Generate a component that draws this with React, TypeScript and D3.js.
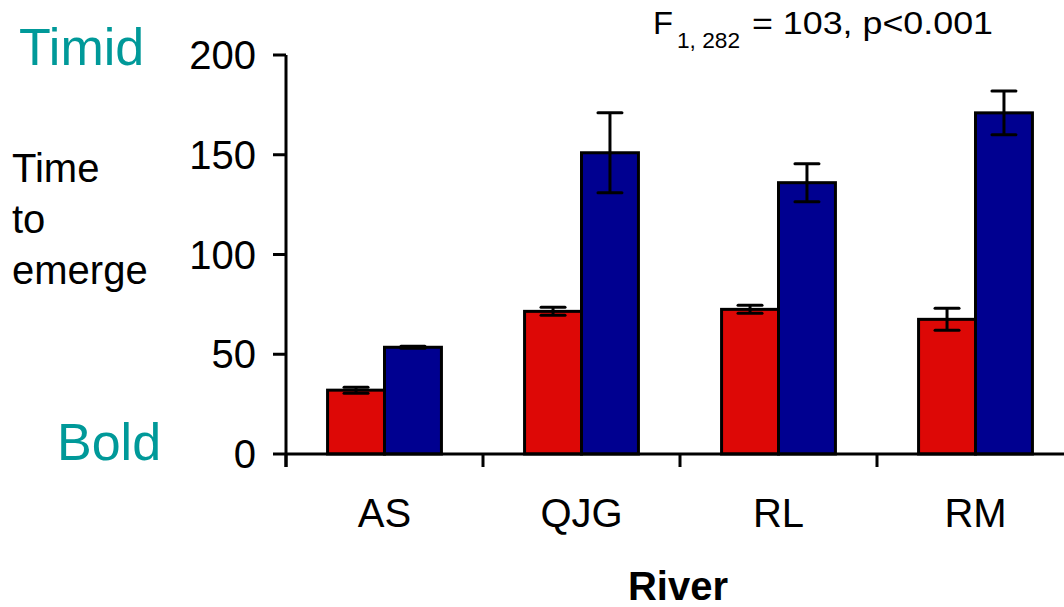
import React, { useEffect, useRef } from 'react';
import * as d3 from 'd3';

const rivers = ['AS', 'QJG', 'RL', 'RM'];
const groups = ['bold', 'timid'];
const boldMeans = [32, 71.5, 72.5, 67.5];
const boldErr = [1.5, 2, 2, 5.5];
const timidMeans = [53.5, 151, 136, 171];
const timidErr = [0.5, 20, 9.5, 11];
const yTicks = [0, 50, 100, 150, 200];

const colors: { [k: string]: string } = { bold: '#DD0806', timid: '#000090' };

interface Bar {
  river: string;
  group: string;
  value: number;
  err: number;
}

export default function App() {
  const ref = useRef<SVGSVGElement>(null);

  useEffect(() => {
    document.body.style.margin = '0';
    const width = 1064;
    const height = 607;
    const font = 'Liberation Sans, Arial, sans-serif';

    const svg = d3.select(ref.current);
    svg.selectAll('*').remove();

    const bars: Bar[] = [];
    rivers.forEach((r, i) => {
      bars.push({ river: r, group: 'bold', value: boldMeans[i], err: boldErr[i] });
      bars.push({ river: r, group: 'timid', value: timidMeans[i], err: timidErr[i] });
    });

    const xScale = d3.scaleBand().domain(rivers).range([286, 1074]).padding(0);
    const xSub = d3
      .scaleBand()
      .domain(groups)
      .range([0, xScale.bandwidth()])
      .paddingInner(0)
      .paddingOuter(0.73);
    const yScale = d3.scaleLinear().domain([0, 200]).range([454, 55]);

    // bars
    svg
      .append('g')
      .selectAll('rect')
      .data(bars)
      .enter()
      .append('rect')
      .attr('x', (d) => (xScale(d.river) as number) + (xSub(d.group) as number))
      .attr('y', (d) => yScale(d.value))
      .attr('width', xSub.bandwidth())
      .attr('height', (d) => yScale(0) - yScale(d.value))
      .attr('fill', (d) => colors[d.group])
      .attr('stroke', '#000')
      .attr('stroke-width', 3);

    // error bars
    const eb = svg.append('g').selectAll('g').data(bars).enter().append('g');
    const cx = (d: Bar) =>
      (xScale(d.river) as number) + (xSub(d.group) as number) + xSub.bandwidth() / 2;
    eb.append('line')
      .attr('x1', cx)
      .attr('x2', cx)
      .attr('y1', (d) => yScale(d.value + d.err))
      .attr('y2', (d) => yScale(d.value - d.err))
      .attr('stroke', '#000')
      .attr('stroke-width', 3);
    [1, -1].forEach((s) => {
      eb.append('line')
        .attr('x1', (d) => cx(d) - 12)
        .attr('x2', (d) => cx(d) + 12)
        .attr('y1', (d) => yScale(d.value + s * d.err))
        .attr('y2', (d) => yScale(d.value + s * d.err))
        .attr('stroke', '#000')
        .attr('stroke-width', 3)
        .attr('stroke-linecap', 'round');
    });

    // y axis
    const yAxis = svg.append('g');
    yAxis
      .append('line')
      .attr('x1', 286)
      .attr('x2', 286)
      .attr('y1', yScale(200))
      .attr('y2', 467)
      .attr('stroke', '#000')
      .attr('stroke-width', 3);
    yAxis
      .selectAll('line.tick')
      .data(yTicks)
      .enter()
      .append('line')
      .attr('class', 'tick')
      .attr('x1', 273)
      .attr('x2', 286)
      .attr('y1', (d) => yScale(d))
      .attr('y2', (d) => yScale(d))
      .attr('stroke', '#000')
      .attr('stroke-width', 3);
    yAxis
      .selectAll('text')
      .data(yTicks)
      .enter()
      .append('text')
      .attr('x', 256)
      .attr('y', (d) => yScale(d) + 14)
      .attr('text-anchor', 'end')
      .attr('font-family', font)
      .attr('font-size', 40)
      .text((d) => d);

    // x axis
    const xAxis = svg.append('g');
    xAxis
      .append('line')
      .attr('x1', 286)
      .attr('x2', width)
      .attr('y1', 454)
      .attr('y2', 454)
      .attr('stroke', '#000')
      .attr('stroke-width', 3);
    xAxis
      .selectAll('line.tick')
      .data(rivers)
      .enter()
      .append('line')
      .attr('class', 'tick')
      .attr('x1', (d) => xScale(d) as number)
      .attr('x2', (d) => xScale(d) as number)
      .attr('y1', 454)
      .attr('y2', 467)
      .attr('stroke', '#000')
      .attr('stroke-width', 3);
    xAxis
      .selectAll('text')
      .data(rivers)
      .enter()
      .append('text')
      .attr('x', (d) => (xScale(d) as number) + xScale.bandwidth() / 2)
      .attr('y', 527)
      .attr('text-anchor', 'middle')
      .attr('font-family', font)
      .attr('font-size', 40)
      .text((d) => d);

    svg
      .append('text')
      .attr('x', 678)
      .attr('y', 600)
      .attr('text-anchor', 'middle')
      .attr('font-family', font)
      .attr('font-size', 40)
      .attr('font-weight', 'bold')
      .text('River');

    // y labels
    const teal = '#009999';
    svg
      .append('text')
      .attr('x', 19)
      .attr('y', 65)
      .attr('font-family', font)
      .attr('font-size', 52)
      .attr('fill', teal)
      .text('Timid');
    svg
      .append('text')
      .attr('x', 57)
      .attr('y', 460)
      .attr('font-family', font)
      .attr('font-size', 52)
      .attr('fill', teal)
      .text('Bold');
    ['Time', 'to', 'emerge'].forEach((t, i) => {
      svg
        .append('text')
        .attr('x', 12)
        .attr('y', 182 + i * 51)
        .attr('font-family', font)
        .attr('font-size', 40)
        .text(t);
    });

    // stats
    const st = svg.append('g').attr('font-family', font);
    st.append('text')
      .attr('x', 653)
      .attr('y', 34)
      .attr('font-size', 31)
      .attr('textLength', 20)
      .attr('lengthAdjust', 'spacingAndGlyphs')
      .text('F');
    st.append('text')
      .attr('x', 677)
      .attr('y', 48)
      .attr('font-size', 22)
      .attr('textLength', 63)
      .attr('lengthAdjust', 'spacingAndGlyphs')
      .text('1, 282');
    st.append('text')
      .attr('x', 752)
      .attr('y', 34)
      .attr('font-size', 31)
      .attr('textLength', 241)
      .attr('lengthAdjust', 'spacingAndGlyphs')
      .text('= 103, p<0.001');

    svg.attr('width', width).attr('height', height);
  }, []);

  return <svg ref={ref} width={1064} height={607} style={{ display: 'block' }} />;
}
